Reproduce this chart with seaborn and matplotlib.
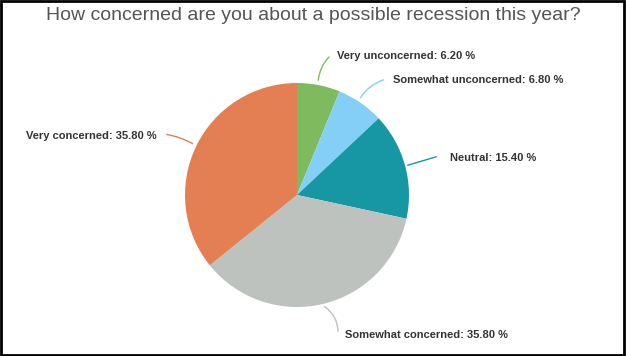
import matplotlib.pyplot as plt
import seaborn as sns
from matplotlib.patches import Rectangle

# Survey data
categories = ['Very unconcerned', 'Somewhat unconcerned', 'Neutral',
              'Somewhat concerned', 'Very concerned']
shares = [6.2, 6.8, 15.4, 35.8, 35.8]
colors = ['#80ba5f', '#83cff8', '#1797a3', '#bec2be', '#e47e53']

sns.set_theme(style='white')
plt.rcParams['font.family'] = ['Liberation Sans', 'DejaVu Sans']

fig = plt.figure(figsize=(6.26, 3.56), dpi=100)
ax = fig.add_axes([0, 0, 1, 1])

# pie in pixel-like coordinates
cx, cy, r = 297, 161, 112
wedges, _ = ax.pie(shares, colors=sns.color_palette(colors), startangle=90,
                   counterclock=False, center=(cx, cy), radius=r, frame=True,
                   wedgeprops=dict(linewidth=0))
ax.set_xlim(0, 626)
ax.set_ylim(0, 356)
ax.set_aspect('equal')
ax.axis('off')

# label placement (text anchor, line start on the rim, line end, curvature, alignment)
label_pos = [
    ((337, 300), (318, 273), (331, 301), -0.2, 'left'),
    ((393, 276), (359, 256), (386, 277), -0.2, 'left'),
    ((450, 198), (405, 190), (439, 200), 0.0, 'left'),
    ((345, 21), (322, 51), (338, 22), -0.3, 'left'),
    ((157, 220), (195, 211), (164, 222), 0.1, 'right'),
]
for cat, val, col, (tpos, p0, p1, rad, ha) in zip(categories, shares, colors, label_pos):
    ax.annotate('', xy=p1, xytext=p0,
                arrowprops=dict(arrowstyle='-', color=col, lw=1,
                                connectionstyle=f'arc3,rad={rad}'))
    ax.text(tpos[0], tpos[1], f'{cat}: {val:.2f} %', ha=ha, va='center',
            fontsize=8, fontweight='bold', color='#333333')

ax.text(313, 340, 'How concerned are you about a possible recession this year?',
        ha='center', va='center', fontsize=14, color='#555555')

# outer frame
fig.patches.append(Rectangle((0.002, 0.003), 0.995, 0.993, transform=fig.transFigure,
                             fill=False, edgecolor='black', linewidth=2))

fig.savefig('out.png', dpi=100)
